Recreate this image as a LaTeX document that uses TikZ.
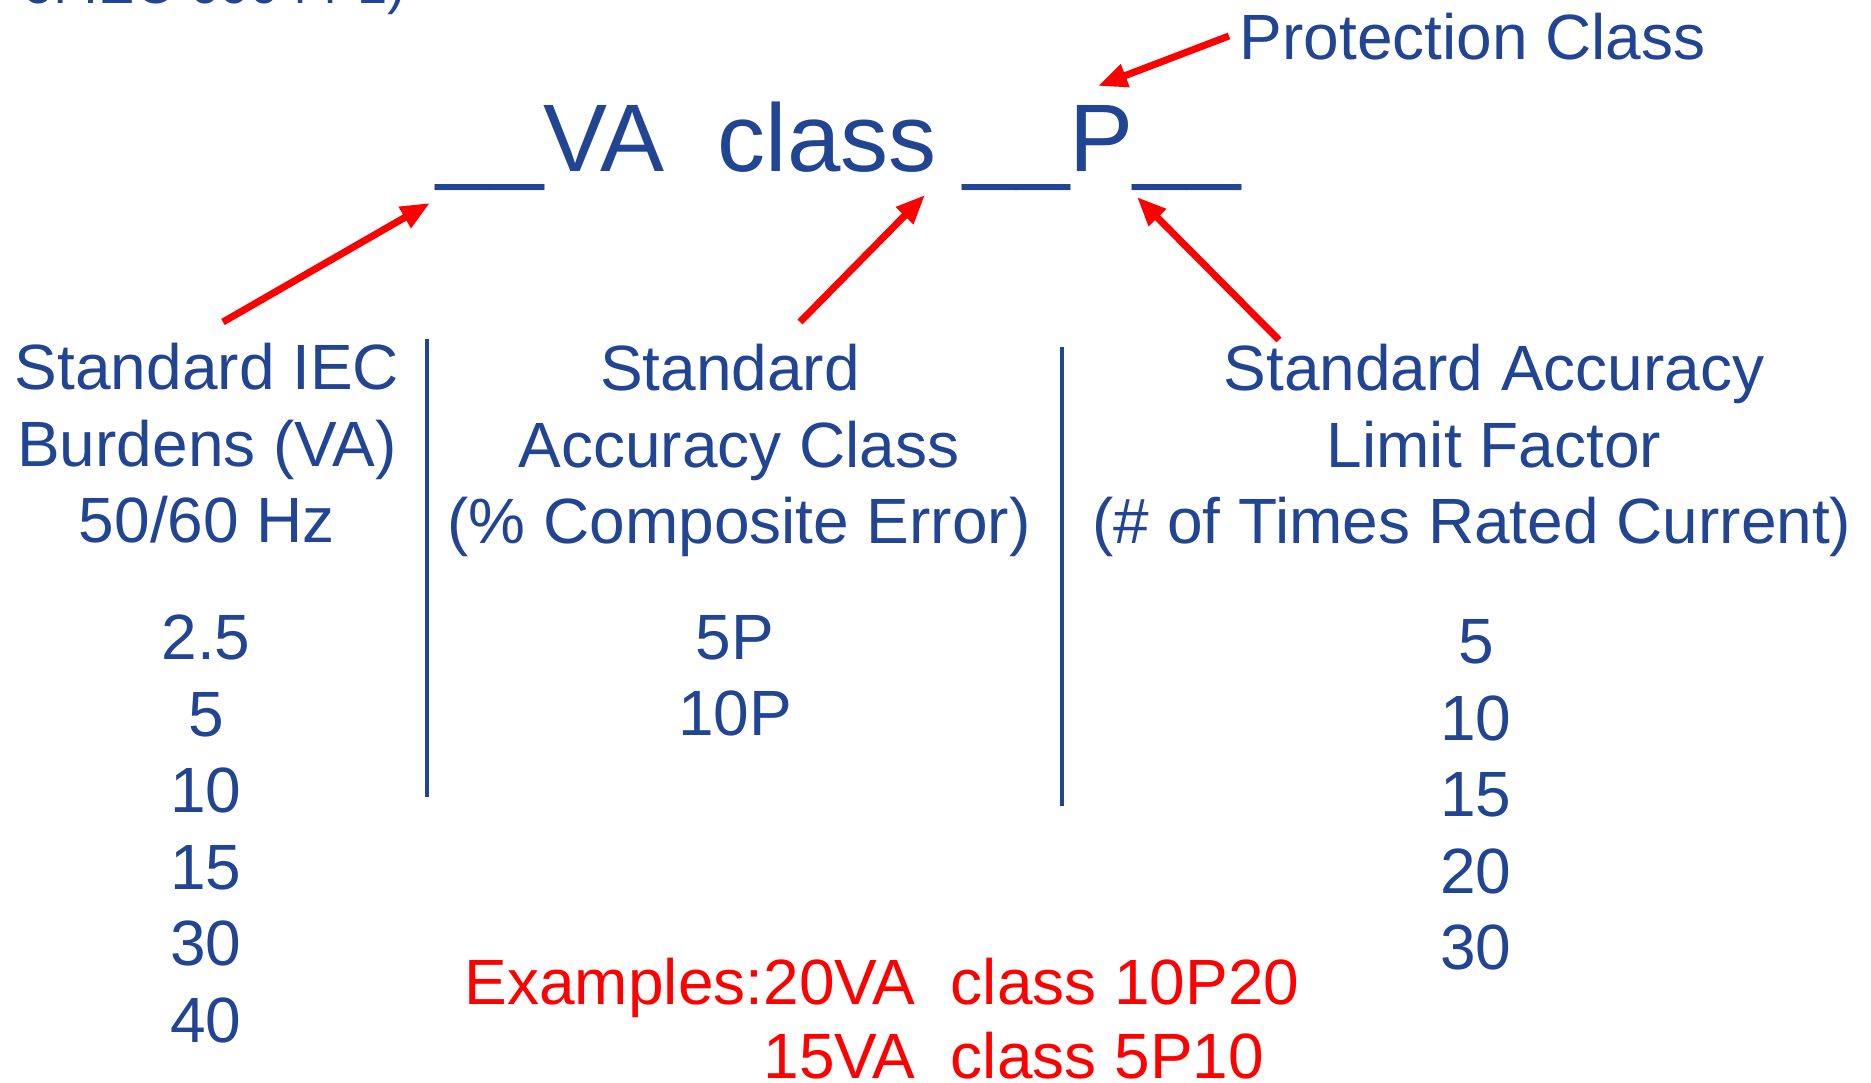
\documentclass[tikz,border=0pt]{standalone}
\usepackage{fontspec}
\setmainfont{Liberation Sans}
\usepackage{xcolor}
\usepackage{tikz}
\usetikzlibrary{arrows.meta}
\definecolor{ctblue}{RGB}{33,68,147}
\tikzset{
  txt/.style={text=ctblue, inner sep=0pt, font=\fontsize{18.2}{21.8}\selectfont},
  hdr/.style={txt, align=center, anchor=base},
  num/.style={txt, anchor=base},
  ttl/.style={text=ctblue, inner sep=0pt, anchor=base west, font=\fontsize{27.3}{32}\selectfont},
  ex/.style={text=red, inner sep=0pt, align=left, anchor=base west, font=\fontsize{18.2}{21.3}\selectfont},
  Ra/.style={draw=red, line width=2pt, -{Triangle[length=8.3pt,width=6.5pt]}},
  divline/.style={draw=ctblue, line width=1.4pt}
}

\begin{document}
\begin{tikzpicture}[x=0.01cm, y=-0.01cm]
  \useasboundingbox (0,0) rectangle (1871,1083);
  \clip (0,0) rectangle (1871,1083);

  % Cut-off note at the top
  \node[txt, anchor=base west, font=\fontsize{15.4}{18}\selectfont] (note) at (23,4) {of IEC 60044-1)};

  % Designation
  \node[ttl] (title) at (436,172) {\_\_VA\ \ class \_\_P\_\_};
  \node[txt, anchor=base west] (prot) at (1239,60) {Protection Class};

  % Column headers (base = last line)
  \node[hdr] (burden) at (207,543) {Standard IEC\\Burdens (VA)\\50/60 Hz};
  \node[hdr] (accuracy) at (739,544) {Standard\kern.28em\\Accuracy Class\\(\% Composite Error)};
  \node[hdr] (alf) at (1494,544) {Standard Accuracy\\Limit Factor\\(\# of Times Rated Current)\kern.44cm};

  % Dividers
  \draw[divline] (427,339) -- (427,797);
  \draw[divline] (1062,347) -- (1062,806);

  % Burden values
  \node[num] (b1) at (206,660) {2.5};
  \node[num] (b2) at (206,736.5) {5};
  \node[num] (b3) at (206,813) {10};
  \node[num] (b4) at (206,889.5) {15};
  \node[num] (b5) at (206,966) {30};
  \node[num] (b6) at (206,1042.5) {40};

  % Accuracy class values
  \node[num] (a1) at (735,660) {5P};
  \node[num] (a2) at (735,736) {10P};

  % Limit factor values
  \node[num] (f1) at (1476,664) {5};
  \node[num] (f2) at (1476,740.5) {10};
  \node[num] (f3) at (1476,817) {15};
  \node[num] (f4) at (1476,893.5) {20};
  \node[num] (f5) at (1476,970) {30};

  % Examples (base = second line)
  \node[ex] (examples) at (464,1079) {Examples:20VA\ \ class 10P20\\\hphantom{Examples:}15VA\ \ class 5P10};

  % Arrow ends
  \coordinate (protTail) at (1229,36);
  \coordinate (protTip) at (1098,86);
  \coordinate (vaTail) at (223,322);
  \coordinate (vaTip) at (430,203);
  \coordinate (accTail) at (800,322);
  \coordinate (accTip) at (925,195);
  \coordinate (alfTail) at (1279,340);
  \coordinate (alfTip) at (1137,197);

  % Pointers
  \draw[Ra] (protTail) -- (protTip);
  \draw[Ra] (vaTail) -- (vaTip);
  \draw[Ra] (accTail) -- (accTip);
  \draw[Ra] (alfTail) -- (alfTip);
\end{tikzpicture}
\end{document}
